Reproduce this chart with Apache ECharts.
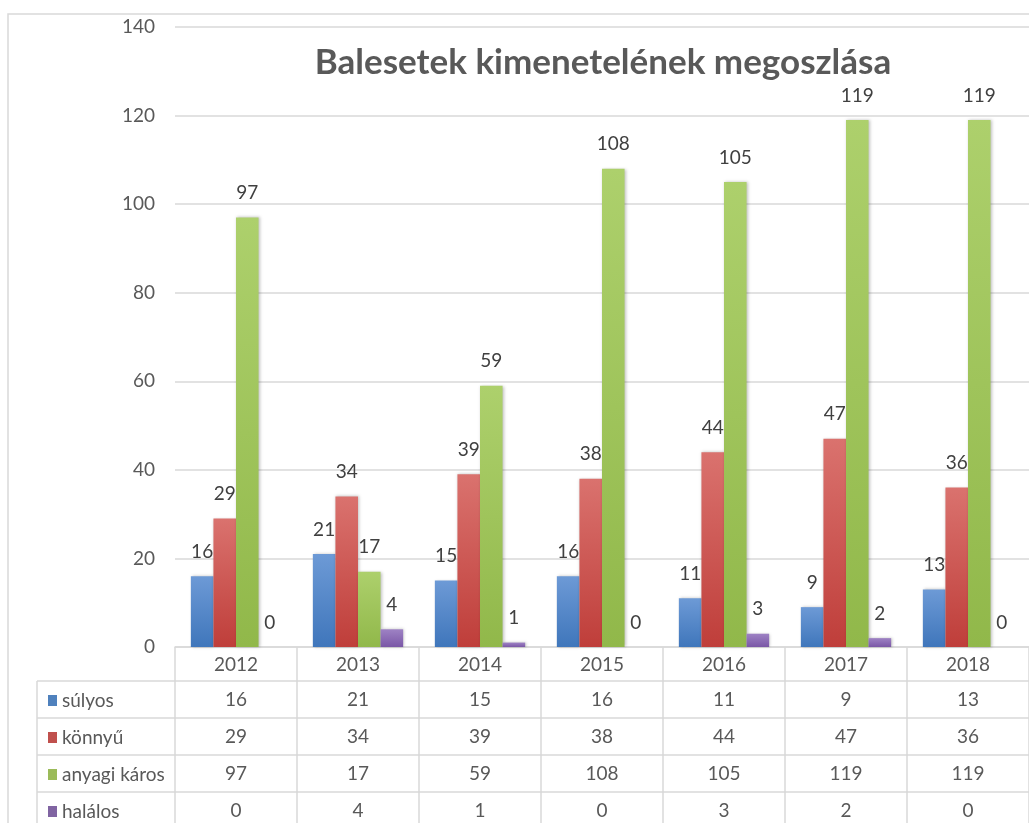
<!DOCTYPE html>
<html>
<head>
<meta charset="utf-8">
<script src="https://cdn.jsdelivr.net/npm/echarts@6/dist/echarts.min.js"></script>
<style>
  html, body { margin: 0; padding: 0; background: #fff; }
  #main { width: 1029px; height: 823px; }
</style>
</head>
<body>
<div id="main"></div>
<script>
// adatok
var years = ['2012', '2013', '2014', '2015', '2016', '2017', '2018'];
var sulyos = [16, 21, 15, 16, 11, 9, 13];
var konnyu = [29, 34, 39, 38, 44, 47, 36];
var anyagi = [97, 17, 59, 108, 105, 119, 119];
var halalos = [0, 4, 1, 0, 3, 2, 0];
var seriesNames = ['súlyos', 'könnyű', 'anyagi káros', 'halálos'];
var yTicks = { min: 0, max: 140, interval: 20 };

var FONT = 'Lato, "Open Sans", sans-serif';
var lineCol = '#d9d9d9';

function grad(top, bottom) {
  return new echarts.graphic.LinearGradient(0, 0, 0, 1, [
    { offset: 0, color: top },
    { offset: 1, color: bottom }
  ]);
}

var colors = [
  grad('#6d9ad6', '#3f76bb'),
  grad('#da726e', '#bf3e3a'),
  grad('#add06c', '#91b84a'),
  grad('#9e82c4', '#7a57a6')
];
var legendColors = ['#4f81bd', '#c0504d', '#9bbb59', '#8064a2'];

function makeBar(name, data, idx) {
  return {
    name: name,
    type: 'bar',
    data: data,
    barGap: 0,
    barCategoryGap: '26%',
    itemStyle: {
      color: colors[idx],
      shadowColor: 'rgba(0,0,0,0.25)',
      shadowBlur: 3,
      shadowOffsetX: 1
    },
    label: {
      show: true,
      position: 'top',
      distance: 15,
      fontFamily: FONT,
      fontSize: 19,
      color: '#404040'
    }
  };
}

// tablazat sorai: extra x tengelyek
var rows = [sulyos, konnyu, anyagi, halalos];
var xAxes = [{
  type: 'category',
  data: years,
  position: 'bottom',
  axisLine: { show: true, lineStyle: { color: lineCol, width: 1.5 } },
  axisTick: { show: true, length: 180, lineStyle: { color: lineCol, width: 1.5 } },
  axisLabel: { margin: 8, fontFamily: FONT, fontSize: 19, color: '#595959' },
  splitLine: { show: false }
}];
rows.forEach(function (row, k) {
  xAxes.push({
    type: 'category',
    data: years,
    position: 'bottom',
    offset: 34 + 37 * k,
    axisLine: { show: true, lineStyle: { color: lineCol, width: 1.5 } },
    axisTick: { show: false },
    axisLabel: {
      margin: 9,
      fontFamily: FONT,
      fontSize: 19,
      color: '#595959',
      formatter: function (v, i) { return String(row[i]); }
    },
    splitLine: { show: false }
  });
});

// jelmagyarazat: soronkent kulon
var legends = seriesNames.map(function (n, i) {
  return {
    orient: 'vertical',
    left: 43,
    top: 686 + 37 * i,
    itemWidth: 9,
    itemHeight: 11,
    icon: 'rect',
    data: [{ name: n, itemStyle: { color: legendColors[i] } }],
    textStyle: { fontFamily: FONT, fontSize: 19, color: '#595959', padding: [0, 0, 0, 0] }
  };
});

var leftLines = [];
[681, 718, 755, 792].forEach(function (y) {
  leftLines.push({
    type: 'line',
    shape: { x1: 37, y1: y, x2: 175, y2: y },
    style: { stroke: lineCol, lineWidth: 1.5 }
  });
});
leftLines.push({
  type: 'line',
  shape: { x1: 37, y1: 681, x2: 37, y2: 823 },
  style: { stroke: lineCol, lineWidth: 1.5 }
});
// keret
leftLines.push({
  type: 'polyline',
  shape: { points: [[8, 823], [8, 14], [1029, 14]] },
  style: { stroke: lineCol, lineWidth: 1.5, fill: null }
});

var chart = echarts.init(document.getElementById('main'));
chart.setOption({
  animation: false,
  color: legendColors,
  title: {
    text: 'Balesetek kimenetelének megoszlása',
    left: 598,
    textAlign: 'center',
    top: 40,
    textStyle: { fontFamily: FONT, fontSize: 35, fontWeight: 'bold', color: '#595959' }
  },
  legend: legends,
  grid: { left: 175, top: 27, width: 869, height: 620, containLabel: false },
  xAxis: xAxes,
  yAxis: {
    type: 'value',
    min: yTicks.min,
    max: yTicks.max,
    interval: yTicks.interval,
    axisLine: { show: false },
    axisTick: { show: false },
    axisLabel: { margin: 20, fontFamily: FONT, fontSize: 19, color: '#595959' },
    splitLine: { lineStyle: { color: lineCol, width: 1.5 } }
  },
  graphic: leftLines,
  series: [
    makeBar(seriesNames[0], sulyos, 0),
    makeBar(seriesNames[1], konnyu, 1),
    makeBar(seriesNames[2], anyagi, 2),
    makeBar(seriesNames[3], halalos, 3)
  ]
});
</script>
</body>
</html>
